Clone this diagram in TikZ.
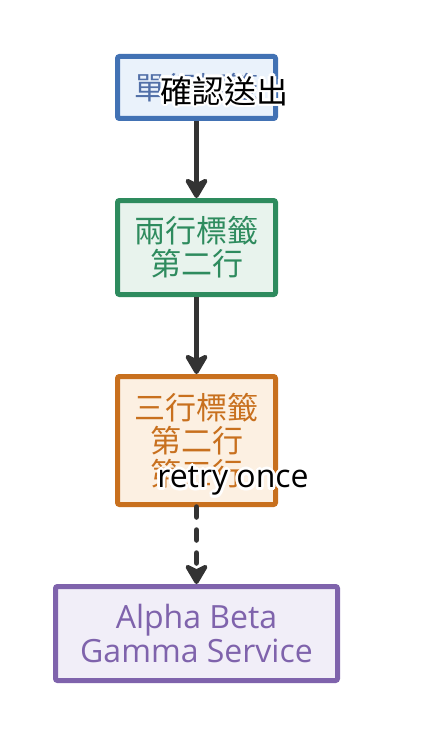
\documentclass[tikz,border=0pt]{standalone}
\usepackage{fontspec}
\setmainfont{Open Sans}
\newfontfamily\cjk{Noto Sans CJK TC}
\usetikzlibrary{arrows.meta}
\definecolor{blueb}{RGB}{66,114,180}
\definecolor{bluef}{RGB}{234,242,251}
\definecolor{bluet}{RGB}{82,112,168}
\definecolor{greenb}{RGB}{46,139,94}
\definecolor{greenf}{RGB}{232,243,237}
\definecolor{orangeb}{RGB}{200,112,30}
\definecolor{orangef}{RGB}{252,240,226}
\definecolor{purpleb}{RGB}{127,99,172}
\definecolor{purplef}{RGB}{241,238,248}
\definecolor{edgec}{RGB}{51,51,51}
\newcommand\halolabel[4]{%
  \foreach \a in {0,30,...,330}
    \node[#4, text=white] at ([shift={(\a:2.8pt)}]#1) {#3};
  \node[#4, text=black] (#2) at (#1) {#3};}
\begin{document}
\begin{tikzpicture}[x=1pt,y=-1pt,
  box/.style={draw, line width=5pt, rounded corners=2pt, align=center, inner sep=0pt},
  cjktext/.style={font=\cjk\fontsize{31}{33}\selectfont},
  lattext/.style={font=\fontsize{32}{34}\selectfont},
  cjklabel/.style={font=\cjk\fontsize{32}{34}\selectfont, inner sep=0pt},
  latlabel/.style={font=\fontsize{32}{34}\selectfont, inner sep=0pt},
  conn/.style={draw=edgec, line width=5.5pt, arrows={-Stealth[length=24pt,width=28pt,inset=7pt,round]}},
  dconn/.style={conn, line cap=round, dash pattern=on 10pt off 13pt},
]
\useasboundingbox (0,0) rectangle (430,738);
\node[box, draw=blueb, fill=bluef, text=bluet, cjktext, minimum width=158pt, minimum height=62pt] (n1) at (196.5,87.5) {單行標籤};
\node[box, draw=greenb, fill=greenf, text=greenb, cjktext, minimum width=158pt, minimum height=94pt] (n2) at (196.5,247.5) {兩行標籤\\第二行};
\node[box, draw=orangeb, fill=orangef, text=orangeb, cjktext, minimum width=158pt, minimum height=128pt] (n3) at (196.5,440.5) {三行標籤\\第二行\\第三行};
\node[box, draw=purpleb, fill=purplef, text=purpleb, lattext, minimum width=282pt, minimum height=94pt] (n4) at (196.5,633.5) {Alpha Beta\\Gamma Service};
\draw[conn] (n1) -- (n2);
\draw[conn] (n2) -- (n3);
\draw[dconn] (n3) -- (n4);
\halolabel{224.5,91}{l1}{確認送出}{cjklabel}
\halolabel{233,481}{l2}{retry once}{latlabel}
\end{tikzpicture}
\end{document}
